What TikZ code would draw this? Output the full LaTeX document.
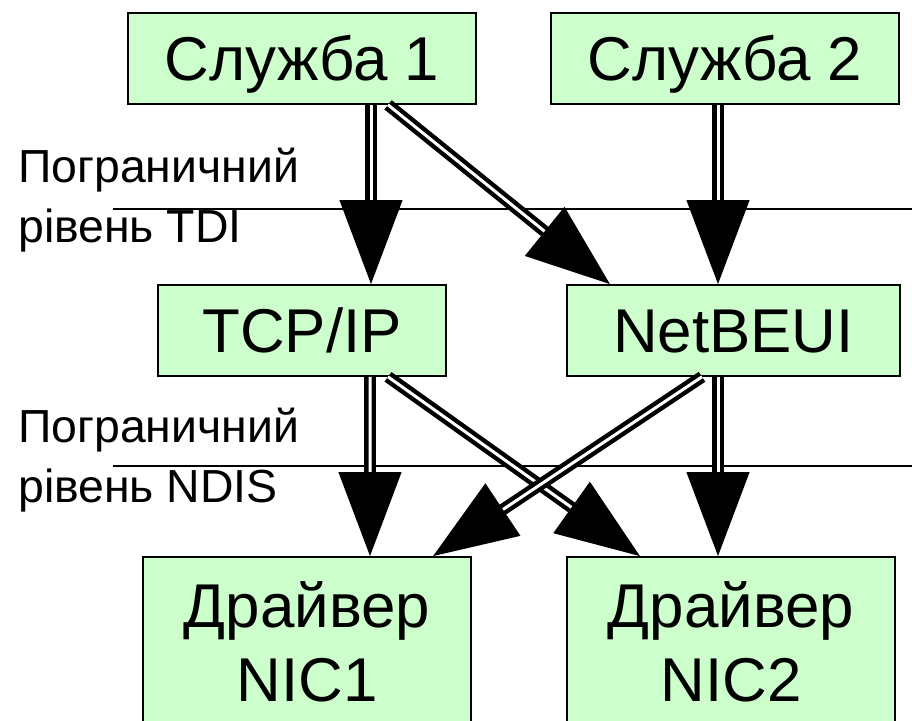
\documentclass[tikz,border=0pt]{standalone}
\usepackage{fontspec}
\setmainfont{Liberation Sans}
\usetikzlibrary{arrows.meta}
\definecolor{boxgreen}{RGB}{204,255,204}
\tikzset{
  layer/.style={rectangle,draw=black,line width=1.2pt,fill=boxgreen,align=center,inner sep=0pt,minimum height=2.275cm,text height=31.5pt,text depth=0pt,font=\fontsize{44}{53}\selectfont},
  driver/.style={rectangle,draw=black,line width=1.2pt,fill=boxgreen,align=center,inner sep=0pt,minimum width=8.2cm,minimum height=4.25cm,font=\fontsize{44}{53}\selectfont},
  pipe/.style={double=white,double distance=0.075cm,line width=0.11cm,-{Triangle[length=2.1cm,width=1.55cm]}},
  border/.style={line width=1.1pt},
  bordertext/.style={align=left,anchor=north west,inner sep=0pt,font=\fontsize{33}{42.5}\selectfont}
}

\begin{document}
\begin{tikzpicture}
  \clip (0,0) rectangle (22.8,18.025);
  \fill[white] (0,0) rectangle (22.8,18.025);
  % services
  \node[layer,minimum width=8.7cm] (srv1) at (7.55,16.5625) {Служба 1};
  \node[layer,minimum width=8.7cm] (srv2) at (18.125,16.5625) {Служба 2};
  % transport protocols
  \node[layer,minimum width=7.2cm] (tcp) at (7.55,9.7625) {TCP/IP};
  \node[layer,minimum width=8.325cm] (netbeui) at (18.3375,9.7625) {NetBEUI};
  % adapter drivers (run off the bottom edge)
  \node[driver] (nic1) at (7.675,1.975) {Драйвер\\NIC1};
  \node[driver] (nic2) at (18.275,1.975) {Драйвер\\NIC2};
  % boundary levels
  \node[bordertext] (tdi) at (0.45,14.325) {Пограничний\\рівень TDI};
  \node[bordertext] (ndis) at (0.45,7.825) {Пограничний\\рівень NDIS};
  \draw[border] (2.825,12.8) -- (22.8,12.8);
  \draw[border] (2.825,6.375) -- (22.8,6.375);
  % bindings
  \draw[pipe] ([xshift=1.725cm]srv1.south) -- ([xshift=1.725cm]tcp.north);
  \draw[pipe] ([xshift=2.15cm]srv1.south) -- ([xshift=-3.0875cm]netbeui.north);
  \draw[pipe] ([xshift=-0.175cm]srv2.south) -- ([xshift=-0.3875cm]netbeui.north);
  \draw[pipe] ([xshift=1.7cm]tcp.south) -- ([xshift=1.575cm]nic1.north);
  \draw[pipe] ([xshift=2.15cm]tcp.south) -- ([xshift=-2.275cm]nic2.north);
  \draw[pipe] ([xshift=-0.7875cm]netbeui.south) -- ([xshift=3.15cm]nic1.north);
  \draw[pipe] ([xshift=-0.3875cm]netbeui.south) -- ([xshift=-0.325cm]nic2.north);
\end{tikzpicture}
\end{document}
